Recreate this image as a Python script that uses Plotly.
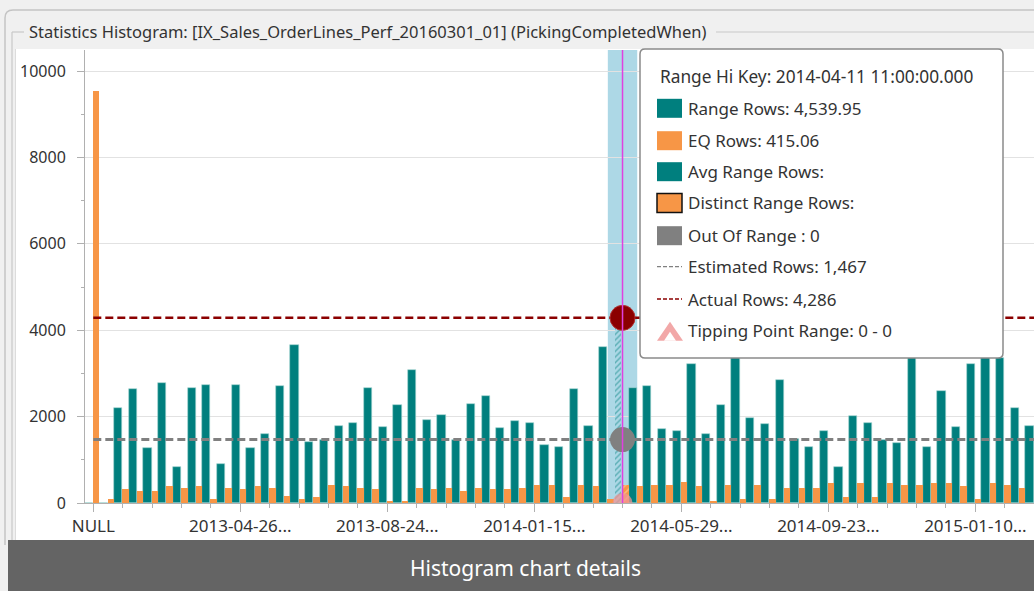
import plotly.graph_objects as go

# ---------------- data ----------------
steps = list(range(65))
range_rows = [0, 0, 2190, 2630, 1265, 2770, 826, 2670, 2740, 903,
              2740, 1265, 1597, 2700, 3657, 1420, 1458, 1790, 1860, 2670,
              1752, 2260, 3070, 1930, 2045, 1450, 2300, 2485, 1745, 1890,
              1860, 1343, 1304, 2630, 1782, 3620, 4539.95, 2670, 2700, 1713,
              1675, 3218, 1597, 2260, 3600, 1967, 1820, 2847, 1490, 1304,
              1675, 826, 2006, 1860, 1450, 1381, 3700, 1304, 2600, 1752,
              3218, 3600, 3350, 2190, 1782]
eq_rows = [9540, 93, 316, 278, 278, 386, 347, 386, 93, 347,
           316, 386, 347, 162, 93, 131, 424, 386, 347, 316,
           54, 54, 347, 316, 347, 278, 347, 316, 316, 347,
           424, 424, 131, 424, 386, 93, 415.06, 386, 424, 424,
           494, 386, 54, 424, 93, 424, 93, 347, 347, 347,
           455, 131, 455, 131, 455, 424, 424, 455, 455, 386,
           93, 455, 424, 347, 386]
tick_steps = [0, 10, 20, 30, 40, 50, 60]
tick_labels = ["NULL", "2013-04-26...", "2013-08-24...", "2014-01-15...",
               "2014-05-29...", "2014-09-23...", "2015-01-10..."]
y_ticks = [0, 2000, 4000, 6000, 8000, 10000]
y_tick_labels = ["0", "2000", "4000", "6000", "8000", "10000"]
highlight_step = 36
hi_key = "2014-04-11 11:00:00.000"
estimated_rows = 1467
actual_rows = 4286
out_of_range = 0
tipping_range = "0 - 0"
index_name = "IX_Sales_OrderLines_Perf_20160301_01"
column_name = "PickingCompletedWhen"

# ---------------- style ----------------
TEAL = "#007F7E"
ORANGE = "#F79646"
GRAY = "#808080"
DARKRED = "#8B0000"
FONT = "Noto Sans"
TXT = "#333333"
W, H = 1034, 591
L, R, T, B = 85, 1034, 50, 503


def px(x):
    return (x - L) / (R - L)


def py(y):
    return (B - y) / (B - T)


fig = go.Figure()

normal_range = [None if s == highlight_step else v for s, v in zip(steps, range_rows)]
normal_eq = [None if s == highlight_step else v for s, v in zip(steps, eq_rows)]

fig.add_bar(x=steps, y=normal_range, offset=-0.59, width=0.56,
            marker=dict(color=TEAL, line=dict(width=0.6, color="#9fd3d0")),
            hoverinfo="skip", showlegend=False)
fig.add_bar(x=steps, y=normal_eq, offset=-0.03, width=0.44,
            marker=dict(color=ORANGE, line=dict(width=0)),
            hoverinfo="skip", showlegend=False)
# highlighted step (hatched)
fig.add_bar(x=[highlight_step], y=[range_rows[highlight_step]], offset=-0.5, width=0.42,
            marker=dict(color="#ADD8E6", line=dict(width=0),
                        pattern=dict(shape="/", fgcolor=TEAL, size=4, solidity=0.35,
                                     fillmode="overlay")),
            hoverinfo="skip", showlegend=False)
fig.add_bar(x=[highlight_step], y=[eq_rows[highlight_step]], offset=-0.03, width=0.44,
            marker=dict(color=ORANGE, line=dict(width=0),
                        pattern=dict(shape="/", fgcolor="#FFD9B0", size=5, solidity=0.3,
                                     fillmode="overlay")),
            hoverinfo="skip", showlegend=False)

# estimated / actual lines
fig.add_scatter(x=[steps[0], steps[-1]], y=[estimated_rows] * 2, mode="lines",
                line=dict(color=GRAY, width=3, dash="8px,4px"),
                hoverinfo="skip", showlegend=False)
fig.add_scatter(x=[steps[0], steps[-1]], y=[actual_rows] * 2, mode="lines",
                line=dict(color=DARKRED, width=2.5, dash="8px,4px"),
                hoverinfo="skip", showlegend=False)
# markers at highlighted step
fig.add_scatter(x=[highlight_step], y=[out_of_range], mode="markers",
                marker=dict(size=20, color="rgba(240,150,150,0.75)", line=dict(width=0)),
                hoverinfo="skip", showlegend=False)
fig.add_scatter(x=[highlight_step], y=[estimated_rows], mode="markers",
                marker=dict(size=25, color=GRAY, line=dict(width=0)),
                hoverinfo="skip", showlegend=False)
fig.add_scatter(x=[highlight_step], y=[actual_rows], mode="markers",
                marker=dict(size=25, color=DARKRED, line=dict(width=1, color="#b03030")),
                hoverinfo="skip", showlegend=False)

shapes = []
# white panel
shapes.append(dict(type="rect", xref="paper", yref="paper", layer="below",
                   x0=px(16), x1=px(1040), y0=py(540), y1=py(49),
                   fillcolor="white", line=dict(width=0)))
# highlight band
shapes.append(dict(type="rect", xref="x", yref="paper", layer="below",
                   x0=highlight_step - 1, x1=highlight_step + 1, y0=0, y1=1,
                   fillcolor="#ADD8E6", line=dict(width=0)))
# frame lines
shapes.append(dict(type="path", xref="paper", yref="paper", layer="above",
                   path=f"M {px(5)},{py(545)} L {px(5)},{py(18)} Q {px(5)},{py(10)} {px(13)},{py(10)} L {px(1040)},{py(10)}",
                   line=dict(color="#c4c4c4", width=1.5)))
shapes.append(dict(type="line", xref="paper", yref="paper", layer="above",
                   x0=px(12), x1=px(24), y0=py(32), y1=py(32), line=dict(color="#c8c8c8", width=1.2)))
shapes.append(dict(type="line", xref="paper", yref="paper", layer="above",
                   x0=px(716), x1=px(1040), y0=py(32), y1=py(32), line=dict(color="#c8c8c8", width=1.2)))
shapes.append(dict(type="line", xref="paper", yref="paper", layer="above",
                   x0=px(12), x1=px(12), y0=py(32), y1=py(545), line=dict(color="#c8c8c8", width=1.2)))
shapes.append(dict(type="line", xref="paper", yref="paper", layer="above",
                   x0=px(15.5), x1=px(15.5), y0=py(49), y1=py(545), line=dict(color="#dcdcdc", width=1)))
# magenta selection line
shapes.append(dict(type="line", xref="x", yref="paper", layer="above",
                   x0=highlight_step, x1=highlight_step, y0=0, y1=1,
                   line=dict(color="#E040E0", width=1.5)))
# bottom caption bar
shapes.append(dict(type="rect", xref="paper", yref="paper", layer="above",
                   x0=px(8), x1=px(1040), y0=py(596), y1=py(540),
                   fillcolor="#646464", line=dict(width=0)))
# tooltip box with rounded corners
x0t, x1t, y0t, y1t, r = 640, 1003, 49, 358, 5
tip = (f"M {px(x0t + r)},{py(y0t)} L {px(x1t - r)},{py(y0t)} "
       f"Q {px(x1t)},{py(y0t)} {px(x1t)},{py(y0t + r)} L {px(x1t)},{py(y1t - r)} "
       f"Q {px(x1t)},{py(y1t)} {px(x1t - r)},{py(y1t)} L {px(x0t + r)},{py(y1t)} "
       f"Q {px(x0t)},{py(y1t)} {px(x0t)},{py(y1t - r)} L {px(x0t)},{py(y0t + r)} "
       f"Q {px(x0t)},{py(y0t)} {px(x0t + r)},{py(y0t)} Z")
shapes.append(dict(type="path", xref="paper", yref="paper", layer="above", path=tip,
                   fillcolor="white", line=dict(color="#8a8a8a", width=1.5)))

# tooltip rows
row_y = [108.3, 140.7, 171.7, 203, 235.7, 266.7, 299, 330.7]
sw_x0, sw_x1, text_x = 657, 682, 689


def swatch(yc, fill, border=None):
    shapes.append(dict(type="rect", xref="paper", yref="paper", layer="above",
                       x0=px(sw_x0), x1=px(sw_x1), y0=py(yc + 9.5), y1=py(yc - 9.5),
                       fillcolor=fill,
                       line=dict(width=1.5 if border else 0, color=border or fill)))


swatch(row_y[0], TEAL)
swatch(row_y[1], ORANGE)
swatch(row_y[2], TEAL)
swatch(row_y[3], ORANGE, "#111111")
swatch(row_y[4], GRAY)
shapes.append(dict(type="line", xref="paper", yref="paper", layer="above",
                   x0=px(sw_x0), x1=px(sw_x1), y0=py(row_y[5]), y1=py(row_y[5]),
                   line=dict(color=GRAY, width=1.3, dash="4px,2px")))
shapes.append(dict(type="line", xref="paper", yref="paper", layer="above",
                   x0=px(sw_x0), x1=px(sw_x1), y0=py(row_y[6]), y1=py(row_y[6]),
                   line=dict(color=DARKRED, width=1.3, dash="4px,2px")))
ty = row_y[7]
shapes.append(dict(type="path", xref="paper", yref="paper", layer="above",
                   path=f"M {px(657)},{py(ty + 10)} L {px(670)},{py(ty - 9)} L {px(683)},{py(ty + 10)} Z",
                   fillcolor="#F2A8A8", line=dict(width=0)))
shapes.append(dict(type="path", xref="paper", yref="paper", layer="above",
                   path=f"M {px(664)},{py(ty + 10)} L {px(670)},{py(ty + 1)} L {px(676)},{py(ty + 10)} Z",
                   fillcolor="white", line=dict(width=0)))

annotations = []


def text(x, y, s, size=17, color=TXT, anchor="left"):
    annotations.append(dict(xref="paper", yref="paper", x=px(x), y=py(y), text=s,
                            showarrow=False, xanchor=anchor, yanchor="middle",
                            font=dict(family=FONT, size=size, color=color)))


text(27, 31, f"Statistics Histogram: [{index_name}] ({column_name})", size=16.5)
text(658, 76.7, f"Range Hi Key: {hi_key}", size=17.3)
row_texts = [
    f"Range Rows: {range_rows[highlight_step]:,.2f}",
    f"EQ Rows: {eq_rows[highlight_step]:,.2f}",
    "Avg Range Rows:",
    "Distinct Range Rows:",
    f"Out Of Range : {out_of_range}",
    f"Estimated Rows: {estimated_rows:,}",
    f"Actual Rows: {actual_rows:,}",
    f"Tipping Point Range: {tipping_range}",
]
for yy, s in zip(row_y, row_texts):
    text(text_x - 3, yy, s)
text(525, 568, "Histogram chart details", size=21, color="white", anchor="center")

fig.update_layout(
    width=W, height=H,
    margin=dict(l=L, r=W - R, t=T, b=H - B, pad=0),
    paper_bgcolor="#F0F0F0", plot_bgcolor="white",
    barmode="overlay", bargap=0,
    showlegend=False,
    shapes=shapes, annotations=annotations,
    font=dict(family=FONT, size=15, color=TXT),
    xaxis=dict(range=[-0.565, 63.99], showgrid=False, zeroline=False,
               showline=True, linecolor="#b0b0b0", linewidth=1,
               tickmode="array", tickvals=tick_steps, ticktext=tick_labels,
               ticks="outside", ticklen=8, tickcolor="#b0b0b0",
               tickfont=dict(family=FONT, size=17, color=TXT),
               minor=dict(tickmode="array", tickvals=list(range(0, 65, 2)),
                          ticks="outside", ticklen=4, tickcolor="#b0b0b0", showgrid=False)),
    yaxis=dict(range=[0, 10486], showgrid=True, gridcolor="#e2e2e2", zeroline=False,
               showline=True, linecolor="#b0b0b0", linewidth=1,
               tickmode="array", tickvals=y_ticks, ticktext=y_tick_labels,
               ticks="outside", ticklen=7, tickcolor="#b0b0b0",
               ticklabelstandoff=8,
               tickfont=dict(family=FONT, size=16, color=TXT),
               minor=dict(dtick=1000, tick0=0, ticks="outside", ticklen=3,
                          tickcolor="#b0b0b0", showgrid=False)),
)

fig.write_html("out.html", config={"displayModeBar": False},
               post_script="document.body.style.margin='0';document.body.style.overflow='hidden';")
